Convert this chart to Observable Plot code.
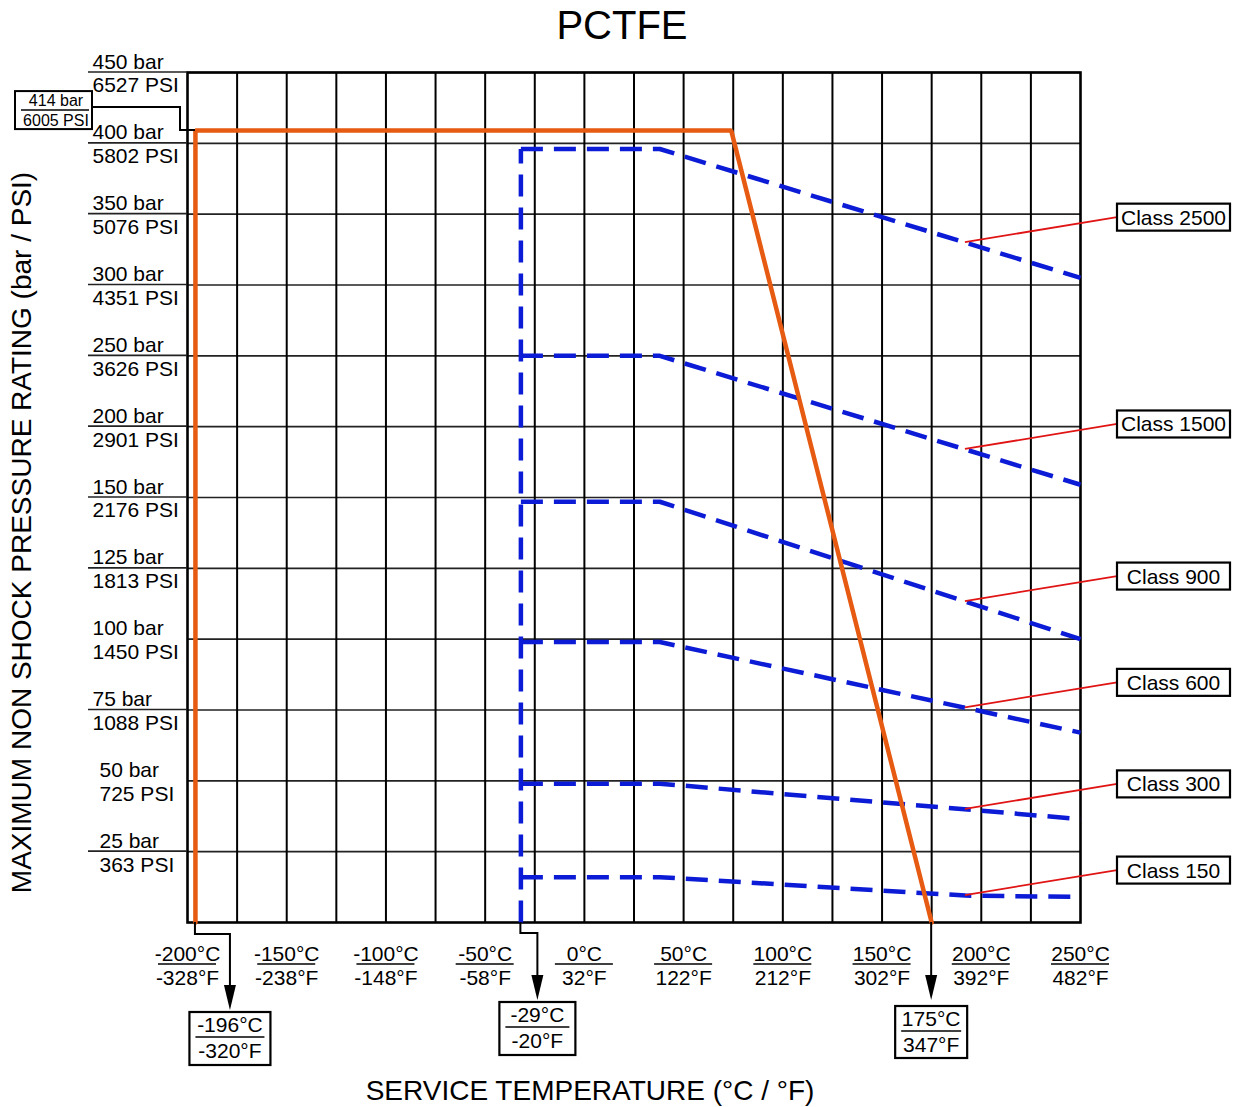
<!DOCTYPE html>
<html>
<head>
<meta charset="utf-8">
<script src="https://cdn.jsdelivr.net/npm/d3@7"></script>
<script src="https://cdn.jsdelivr.net/npm/@observablehq/plot@0.6"></script>
<style>
  body { margin: 0; background: #fff; }
  #chart svg { display: block; }
</style>
</head>
<body>
<div id="chart"></div>
<script>
const FONT = '"Liberation Sans", Arial, Helvetica, sans-serif';

// ---------- data ----------
const chartTitle = "PCTFE";
const xTitle = "SERVICE TEMPERATURE (°C / °F)";
const yTitle = "MAXIMUM NON SHOCK PRESSURE RATING (bar / PSI)";

const tempTicksC = [-200, -150, -100, -50, 0, 50, 100, 150, 200, 250];
const tempTicksF = ["-328°F", "-238°F", "-148°F", "-58°F", "32°F", "122°F", "212°F", "302°F", "392°F", "482°F"];
const tempGrid = [-175, -150, -125, -100, -75, -50, -25, 0, 25, 50, 75, 100, 125, 150, 175, 200, 225];

const barTicks = [25, 50, 75, 100, 125, 150, 200, 250, 300, 350, 400, 450];
const psiTicks = [363, 725, 1088, 1450, 1813, 2176, 2901, 3626, 4351, 5076, 5802, 6527];
const barTicksNoExtension = [50, 100];
const barBreak = 150;   // the pressure axis doubles its step (25 -> 50 bar) above this value

// PCTFE seat limit (orange)
const pctfeTemp = [-196, -196, 74, 175];
const pctfePressure = [0, 409, 409, 0];
const pctfeMaxLabel = ["414 bar", "6005 PSI"];

// ASME class curves (blue dashed)
const classNames = ["Class 2500", "Class 1500", "Class 900", "Class 600", "Class 300", "Class 150"];
const classTemp = [
  [-32, 38, 250],
  [-32, 38, 250],
  [-32, 38, 250],
  [-32, 38, 250],
  [-32, 38, 250],
  [-32, 38, 192, 250]
];
const classPressure = [
  [396, 396, 305],
  [250, 250, 159],
  [148.5, 148.5, 100],
  [99, 99, 67],
  [49, 49, 36.5],
  [16, 16, 9.5, 9]
];
const classMinTemp = -32;
const leaderTemp = 192;

// temperature call-outs under the axis
const calloutTemps = [-196, classMinTemp, 175];
const calloutC = ["-196°C", "-29°C", "175°C"];
const calloutF = ["-320°F", "-20°F", "347°F"];

// ---------- derived tables ----------
const classRows = classNames.flatMap((name, i) =>
  classTemp[i].map((t, j) => ({name, t, p: classPressure[i][j]})));
const pctfeRows = pctfeTemp.map((t, i) => ({t, p: pctfePressure[i]}));
const verticalRows = [{t: classMinTemp, p: 0}, {t: classMinTemp, p: d3.max(classPressure, a => a[0])}];
const yTickRows = barTicks.map((b, i) => ({b, psi: psiTicks[i]}));
const yWide = yTickRows.filter(d => d.psi >= 1000);
const yNarrow = yTickRows.filter(d => d.psi < 1000);
const xTickRows = tempTicksC.map((c, i) => ({c, f: tempTicksF[i]}));

// broken pressure axis: 25 bar per grid step below barBreak, 50 bar per step above
const yT = b => b <= barBreak ? b / 25 : barBreak / 25 + (b - barBreak) / 50;

function valueAt(ts, ps, t) {
  for (let i = 0; i < ts.length - 1; i++) {
    if (t >= ts[i] && t <= ts[i + 1]) {
      const k = (t - ts[i]) / (ts[i + 1] - ts[i]);
      return ps[i] + k * (ps[i + 1] - ps[i]);
    }
  }
  return ps[ps.length - 1];
}

const ORANGE = "#e65a12";
const BLUE = "#0b1bd6";
const RED = "#e01414";

// ---------- custom decorations (boxes, call-outs, leaders) ----------
function decorations(index, scales, values, dimensions) {
  const sx = scales.x, syRaw = scales.y;
  const top = dimensions.marginTop;
  const yb = dimensions.height - dimensions.marginBottom;
  const sy = Math.abs(syRaw(450) - top) < 2 ? syRaw : v => syRaw(yT(v));
  const g = d3.create("svg:g").attr("font-family", FONT).attr("fill", "none");
  const x0 = sx(-200);

  // left extensions of the horizontal grid lines under the "bar" labels
  for (const b of barTicks) {
    if (barTicksNoExtension.includes(b)) continue;
    g.append("line").attr("x1", x0 - 99).attr("x2", x0).attr("y1", sy(b)).attr("y2", sy(b))
      .attr("stroke", "#222").attr("stroke-width", 1.6);
  }

  // fraction lines under the °C tick labels
  for (const t of tempTicksC) {
    g.append("line").attr("x1", sx(t) - 29).attr("x2", sx(t) + 29)
      .attr("y1", yb + 42).attr("y2", yb + 42).attr("stroke", "#000").attr("stroke-width", 1.5);
  }

  // 414 bar / 6005 PSI box
  {
    const cx = sx(pctfeTemp[1]), cy = sy(pctfePressure[1]);
    const bx = x0 - 172, by = cy - 39, bw = 77, bh = 38;
    g.append("path").attr("d", `M${cx},${cy}H${x0 - 7}V${cy - 23}H${bx + bw}`)
      .attr("stroke", "#000").attr("stroke-width", 2);
    g.append("rect").attr("x", bx).attr("y", by).attr("width", bw).attr("height", bh)
      .attr("stroke", "#000").attr("stroke-width", 2).attr("fill", "#fff");
    g.append("line").attr("x1", bx + 6).attr("x2", bx + 74).attr("y1", by + 19).attr("y2", by + 19)
      .attr("stroke", "#000").attr("stroke-width", 1.5);
    g.append("text").attr("x", bx + 41).attr("y", by + 15).attr("text-anchor", "middle")
      .attr("font-size", 16).attr("fill", "#000").text(pctfeMaxLabel[0]);
    g.append("text").attr("x", bx + 41).attr("y", by + 35).attr("text-anchor", "middle")
      .attr("font-size", 16).attr("fill", "#000").text(pctfeMaxLabel[1]);
  }

  // temperature call-outs
  const jog = [35, 17, 0], drop = [12, 11, 0], tip = [88, 78, 78],
        boxTop = [90, 80, 84], boxW = [81, 76, 72], boxH = [53, 53, 52];
  calloutTemps.forEach((t, i) => {
    const ax = sx(t);
    const ex = ax + jog[i];
    const tipY = yb + tip[i];
    const d = drop[i] > 0
      ? `M${ax},${yb}V${yb + drop[i]}H${ex}V${tipY - 20}`
      : `M${ax},${yb}V${tipY - 20}`;
    g.append("path").attr("d", d).attr("stroke", "#000").attr("stroke-width", 2);
    g.append("path").attr("d", `M${ex},${tipY}L${ex - 6},${tipY - 25}L${ex + 6},${tipY - 25}Z`)
      .attr("fill", "#000");
    const bw = boxW[i], bh = boxH[i], bx = ex - bw / 2, by = yb + boxTop[i];
    g.append("rect").attr("x", bx).attr("y", by).attr("width", bw).attr("height", bh)
      .attr("stroke", "#000").attr("stroke-width", 2.2).attr("fill", "#fff");
    g.append("line").attr("x1", bx + 6).attr("x2", bx + bw - 6).attr("y1", by + 25).attr("y2", by + 25)
      .attr("stroke", "#000").attr("stroke-width", 1.5);
    g.append("text").attr("x", ex).attr("y", by + 20).attr("text-anchor", "middle")
      .attr("font-size", 21).attr("fill", "#000").text(calloutC[i]);
    g.append("text").attr("x", ex).attr("y", by + 46).attr("text-anchor", "middle")
      .attr("font-size", 21).attr("fill", "#000").text(calloutF[i]);
  });

  // class labels with red leaders
  classNames.forEach((name, i) => {
    const lx = sx(leaderTemp);
    const ly = sy(valueAt(classTemp[i], classPressure[i], leaderTemp));
    const bx = sx(250) + 37, bw = 113, bh = 27;
    const cy = ly - 25;
    g.append("line").attr("x1", bx).attr("y1", cy).attr("x2", lx).attr("y2", ly)
      .attr("stroke", RED).attr("stroke-width", 1.8);
    g.append("rect").attr("x", bx).attr("y", cy - bh / 2).attr("width", bw).attr("height", bh)
      .attr("stroke", "#000").attr("stroke-width", 2.2).attr("fill", "#fff");
    g.append("text").attr("x", bx + bw / 2).attr("y", cy + 7.5).attr("text-anchor", "middle")
      .attr("font-size", 21).attr("fill", "#000").text(name);
  });

  return g.node();
}

const chart = Plot.plot({
  width: 1243,
  height: 1107,
  marginLeft: 187,
  marginRight: 163,
  marginTop: 72,
  marginBottom: 185,
  style: {fontFamily: FONT, fontSize: "21px", color: "#000", background: "#fff"},
  x: {type: "linear", domain: [-200, 250], axis: null},
  y: {type: "linear", transform: yT, axis: null},
  marks: [
    Plot.ruleY(barTicks, {stroke: "#222", strokeWidth: 1.6}),
    Plot.ruleX(tempGrid, {stroke: "#000", strokeWidth: 2}),
    Plot.frame({stroke: "#000", strokeWidth: 2.6}),
    Plot.line(classRows, {x: "t", y: "p", z: "name", stroke: BLUE, strokeWidth: 4.5,
      strokeDasharray: "22,11", strokeLinecap: "butt", strokeLinejoin: "miter"}),
    Plot.line(verticalRows, {x: "t", y: "p", stroke: BLUE, strokeWidth: 4.5,
      strokeDasharray: "22,11", strokeLinecap: "butt"}),
    Plot.line(pctfeRows, {x: "t", y: "p", stroke: ORANGE, strokeWidth: 4.5, strokeLinejoin: "miter"}),
    // y tick labels
    Plot.text(yWide, {y: "b", text: d => `${d.b} bar`, frameAnchor: "left", dx: -95, dy: -4,
      textAnchor: "start", lineAnchor: "bottom", fontSize: 21, fill: "#000"}),
    Plot.text(yWide, {y: "b", text: d => `${d.psi} PSI`, frameAnchor: "left", dx: -95, dy: 5,
      textAnchor: "start", lineAnchor: "top", fontSize: 21, fill: "#000"}),
    Plot.text(yNarrow, {y: "b", text: d => `${d.b} bar`, frameAnchor: "left", dx: -88, dy: -4,
      textAnchor: "start", lineAnchor: "bottom", fontSize: 21, fill: "#000"}),
    Plot.text(yNarrow, {y: "b", text: d => `${d.psi} PSI`, frameAnchor: "left", dx: -88, dy: 5,
      textAnchor: "start", lineAnchor: "top", fontSize: 21, fill: "#000"}),
    // x tick labels
    Plot.text(xTickRows, {x: "c", text: d => `${d.c}°C`, frameAnchor: "bottom", dy: 38,
      textAnchor: "middle", lineAnchor: "bottom", fontSize: 21, fill: "#000"}),
    Plot.text(xTickRows, {x: "c", text: "f", frameAnchor: "bottom", dy: 48,
      textAnchor: "middle", lineAnchor: "top", fontSize: 21, fill: "#000"}),
    // titles
    Plot.text([chartTitle], {text: d => d, frameAnchor: "top", dx: -12, dy: -34,
      textAnchor: "middle", lineAnchor: "bottom", fontSize: 40, fill: "#000"}),
    Plot.text([xTitle], {text: d => d, frameAnchor: "bottom", dx: -44, dy: 177,
      textAnchor: "middle", lineAnchor: "bottom", fontSize: 28, fill: "#000"}),
    Plot.text([yTitle], {text: d => d, frameAnchor: "left", dx: -165, dy: 35, rotate: -90,
      textAnchor: "middle", lineAnchor: "middle", fontSize: 28, fill: "#000"}),
    decorations
  ]
});

document.getElementById("chart").append(chart);
</script>
</body>
</html>
